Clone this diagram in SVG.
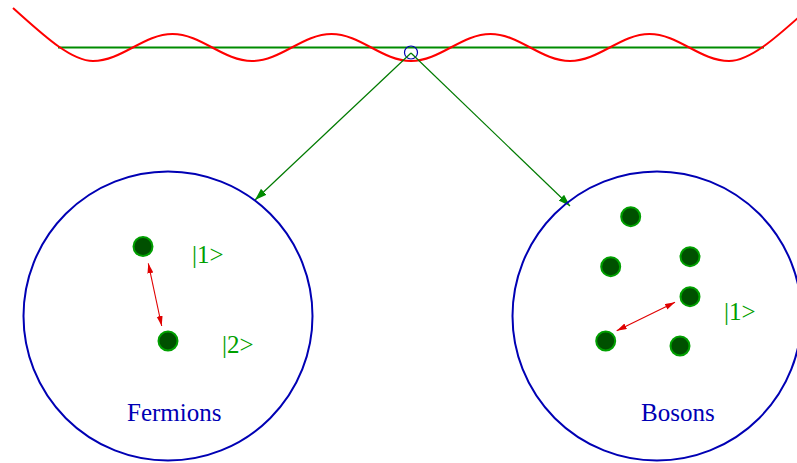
<svg xmlns="http://www.w3.org/2000/svg" width="797" height="463" viewBox="0 0 797 463">
<style>
.lvl{stroke:#008c00;stroke-width:2;fill:none}
.wave{stroke:#ff0000;stroke-width:2;fill:none}
.ring{stroke:#0000b4;stroke-width:2;fill:none}
.dot{fill:#005000;stroke:#00a000;stroke-width:2}
.g{stroke:#007a00;stroke-width:1.2;fill:none}
.r{stroke:#e00000;stroke-width:1.1;fill:none}
.lab{font-family:"Liberation Serif",serif;font-size:25px;fill:#00a000}
.name{font-family:"Liberation Serif",serif;font-size:25px;fill:#0000b4}
</style>
<defs>
<marker id="ga" markerUnits="userSpaceOnUse" markerWidth="14" markerHeight="10" refX="12" refY="4" orient="auto">
<path d="M0 0 L12 4 L0 8 Z" fill="#008c00"/>
</marker>
<marker id="ra" markerUnits="userSpaceOnUse" markerWidth="12" markerHeight="8" refX="10" refY="3" orient="auto-start-reverse">
<path d="M0 0 L10 3 L0 6 Z" fill="#e00000"/>
</marker>
</defs>
<g id="potential">
<line class="lvl" x1="58" y1="47.5" x2="764" y2="47.5"/>
<path class="wave" d="M 13 8 C 40 32 70 61 93 61 C 121.9 61 143.6 34 172.5 34 S 223.1 61 252 61 S 302.6 34 331.5 34 S 382.1 61 411 61 S 461.6 34 490.5 34 S 541.1 61 570 61 S 620.6 34 649.5 34 S 700.1 61 729 61 C 752 61 782 32 809 8"/>
<circle cx="411" cy="52.5" r="6.5" fill="none" stroke="#0000b4" stroke-width="1.2"/>
</g>
<g id="connectors">
<line class="g" x1="411" y1="53" x2="255" y2="200" marker-end="url(#ga)"/>
<line class="g" x1="411" y1="53" x2="570" y2="206" marker-end="url(#ga)"/>
<line class="r" x1="148.3" y1="263.3" x2="161.7" y2="326" marker-start="url(#ra)" marker-end="url(#ra)"/>
<line class="r" x1="675" y1="302.3" x2="616.7" y2="330.7" marker-start="url(#ra)" marker-end="url(#ra)"/>
</g>
<g id="fermions">
<circle class="ring" cx="168" cy="316" r="144.5"/>
<circle class="dot" cx="143" cy="246.5" r="9.5"/>
<circle class="dot" cx="168" cy="341" r="9.5"/>
<text class="lab" x="192" y="263">|1&gt;</text>
<text class="lab" x="222" y="353">|2&gt;</text>
<text class="name" x="127" y="421">Fermions</text>
</g>
<g id="bosons">
<circle class="ring" cx="657" cy="316" r="144.5"/>
<circle class="dot" cx="630.7" cy="216.7" r="9.5"/>
<circle class="dot" cx="610.7" cy="266.7" r="9.5"/>
<circle class="dot" cx="690" cy="256.7" r="9.5"/>
<circle class="dot" cx="690" cy="296.7" r="9.5"/>
<circle class="dot" cx="605.7" cy="341" r="9.5"/>
<circle class="dot" cx="680" cy="346" r="9.5"/>
<text class="lab" x="724" y="320">|1&gt;</text>
<text class="name" x="641" y="421">Bosons</text>
</g>
</svg>
